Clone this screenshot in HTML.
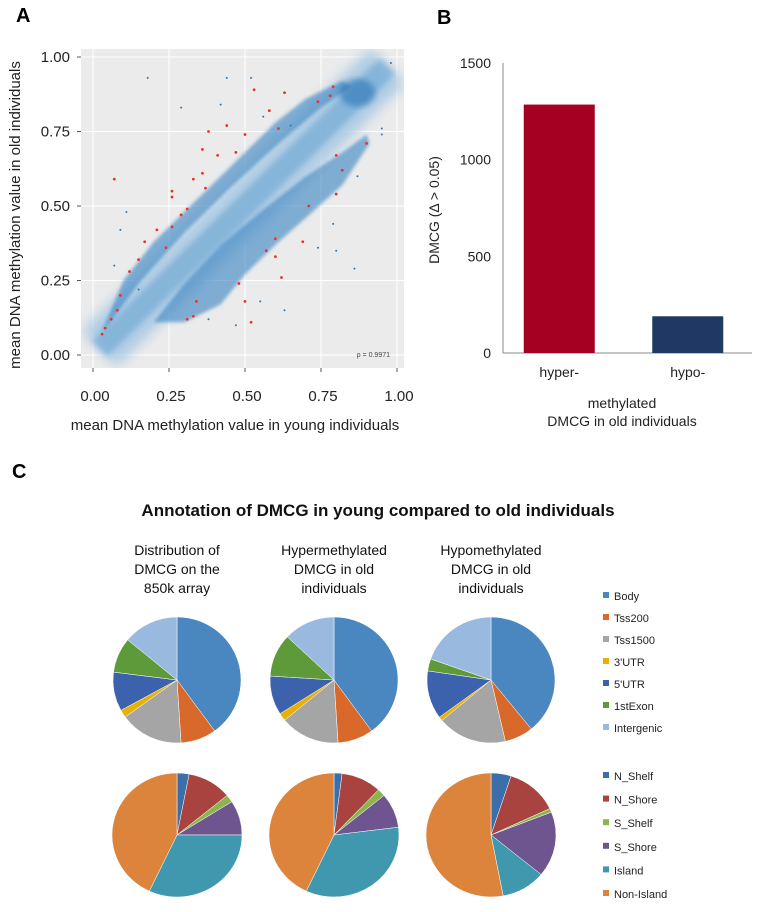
<!DOCTYPE html>
<html><head><meta charset="utf-8"><style>
body{margin:0;background:#fff;font-family:"Liberation Sans",sans-serif}
svg{display:block}
</style></head><body>
<svg id="fig" width="761" height="912" xmlns="http://www.w3.org/2000/svg" font-family="Liberation Sans, sans-serif">
<defs>
<filter id="blur"><feGaussianBlur stdDeviation="6"/></filter>
<filter id="blur3"><feGaussianBlur stdDeviation="3"/></filter>
<filter id="blur2"><feGaussianBlur stdDeviation="1.5"/></filter>
<clipPath id="clipA"><rect x="81" y="49" width="323" height="319"/></clipPath>
</defs>
<text x="16" y="22" font-size="20" font-weight="bold">A</text>
<text x="437" y="24" font-size="20" font-weight="bold">B</text>
<text x="12" y="478" font-size="20" font-weight="bold">C</text>
<g id="pa"></g>
<g id="pb"></g>
<g id="pc"></g>
</svg>
<script>
const NS="http://www.w3.org/2000/svg";
function mk(p,t,a,txt){const e=document.createElementNS(NS,t);for(const k in a)e.setAttribute(k,a[k]);if(txt!==undefined)e.textContent=txt;p.appendChild(e);return e;}

// ---------- Panel A data ----------
const aTicks=[0,0.25,0.5,0.75,1];
const aTickLabels=["0.00","0.25","0.50","0.75","1.00"];
const hyperCloud=[[0.03,0.08],[0.1,0.25],[0.2,0.38],[0.3,0.48],[0.45,0.63],[0.6,0.78],[0.7,0.86],[0.82,0.92],[0.85,0.9],[0.75,0.83],[0.6,0.7],[0.45,0.56],[0.3,0.41],[0.15,0.24],[0.05,0.1]];
const hypoCloud=[[0.2,0.11],[0.3,0.24],[0.42,0.37],[0.55,0.48],[0.7,0.6],[0.82,0.68],[0.9,0.74],[0.91,0.71],[0.82,0.57],[0.7,0.46],[0.6,0.37],[0.5,0.27],[0.42,0.17],[0.3,0.11]];
const redX=[0.07,0.53,0.63,0.79,0.44,0.38,0.5,0.36,0.41,0.47,0.36,0.33,0.37,0.26,0.26,0.31,0.29,0.21,0.26,0.24,0.17,0.15,0.12,0.09,0.08,0.06,0.04,0.03,0.58,0.61,0.74,0.78,0.9,0.8,0.82,0.8,0.71,0.6,0.57,0.6,0.62,0.69,0.48,0.5,0.52,0.34,0.31,0.33];
const redY=[0.59,0.89,0.88,0.9,0.77,0.75,0.74,0.69,0.67,0.68,0.61,0.59,0.56,0.55,0.53,0.49,0.47,0.42,0.43,0.36,0.38,0.32,0.28,0.2,0.15,0.12,0.09,0.07,0.82,0.76,0.85,0.87,0.71,0.67,0.62,0.54,0.5,0.39,0.35,0.33,0.26,0.38,0.24,0.18,0.11,0.18,0.12,0.13];
const blueX=[0.18,0.44,0.29,0.11,0.09,0.52,0.42,0.56,0.65,0.79,0.86,0.95,0.87,0.8,0.74,0.63,0.95,0.98,0.55,0.38,0.47,0.07,0.15];
const blueY=[0.93,0.93,0.83,0.48,0.42,0.93,0.84,0.8,0.77,0.44,0.29,0.76,0.6,0.35,0.36,0.15,0.74,0.98,0.18,0.12,0.1,0.3,0.22];
(function(){
 const g=document.getElementById('pa');
 const X=v=>93+v*304, Y=v=>355-v*298;
 const bg=mk(g,'rect',{x:81,y:49,width:323,height:319,fill:'#ebebeb'});
 
 aTicks.forEach((t,i)=>{
  mk(g,'line',{x1:81,x2:404,y1:Y(t),y2:Y(t),stroke:'#fff','stroke-width':1});
  mk(g,'line',{x1:X(t),x2:X(t),y1:49,y2:368,stroke:'#fff','stroke-width':1});
  mk(g,'line',{x1:77,x2:81,y1:Y(t),y2:Y(t),stroke:'#555'});
  mk(g,'line',{x1:X(t),x2:X(t),y1:368,y2:372,stroke:'#555'});
  const yl=mk(g,'text',{x:70,y:Y(t)+5,'font-size':15,'text-anchor':'end',fill:'#222'},aTickLabels[i]);
  
  const xl=mk(g,'text',{x:X(t)+2,y:401,'font-size':15,'text-anchor':'middle',fill:'#222'},aTickLabels[i]);
  
 });
 const cg=mk(g,'g',{'clip-path':'url(#clipA)'});
 const band=mk(cg,'line',{x1:X(0.02),y1:Y(0.02),x2:X(0.97),y2:Y(0.97),stroke:'#a9c9e3','stroke-width':50,'stroke-opacity':0.9,filter:'url(#blur)'});
 
 const c1=mk(cg,'polygon',{points:hyperCloud.map(p=>X(p[0])+','+Y(p[1])).join(' '),fill:'#3583c2','fill-opacity':0.6,filter:'url(#blur2)'});
 
 const c2=mk(cg,'polygon',{points:hypoCloud.map(p=>X(p[0])+','+Y(p[1])).join(' '),fill:'#3583c2','fill-opacity':0.6,filter:'url(#blur2)'});
 
 const core=mk(cg,'line',{x1:X(0.02),y1:Y(0.02),x2:X(0.97),y2:Y(0.97),stroke:'#6aa5d4','stroke-width':22,'stroke-opacity':0.6,filter:'url(#blur3)'});
 
 mk(cg,'ellipse',{cx:X(0.87),cy:Y(0.88),rx:18,ry:14,fill:'#1f6fb0','fill-opacity':0.55,filter:'url(#blur3)'});
 blueX.forEach((x,i)=>{const p=mk(g,'circle',{cx:X(x),cy:Y(blueY[i]),r:1,fill:'#2878b8'});
  });
 redX.forEach((x,i)=>{const p=mk(g,'circle',{cx:X(x),cy:Y(redY[i]),r:1.4,fill:'#e8322d'});
  });
 const rho=mk(g,'text',{x:390,y:357,'font-size':7,'text-anchor':'end',fill:'#444'},'ρ = 0.9971');
 
 const yt=mk(g,'text',{x:0,y:0,'font-size':15,'text-anchor':'middle',transform:'translate(20,215) rotate(-90)',fill:'#222'},'mean DNA methylation  value  in old individuals');
 
 const xt=mk(g,'text',{x:235,y:430,'font-size':15,'text-anchor':'middle',fill:'#222'},'mean DNA methylation  value  in young  individuals');
 
})();

// ---------- Panel B data ----------
const bCats=["hyper-","hypo-"];
const bVals=[1285,190];
const bTicks=[0,500,1000,1500];
const bColors=["#a50021","#203864"];
(function(){
 const g=document.getElementById('pb');
 const Y=v=>353-v*(290/1500);
 const x0=503, x1=752;
 mk(g,'line',{x1:x0,x2:x0,y1:Y(1500),y2:Y(0),stroke:'#888'});
 mk(g,'line',{x1:x0,x2:x1,y1:Y(0),y2:Y(0),stroke:'#888'});
 bTicks.forEach(t=>{const l=mk(g,'text',{x:491,y:Y(t)+5,'font-size':14,'text-anchor':'end',fill:'#222'},String(t));
  });
 const slot=(x1-x0)/2;
 bCats.forEach((c,i)=>{
  const cx=x0+slot*(i+0.5)+(i?-2:-6);
  const r=mk(g,'rect',{x:cx-35.5,y:Y(bVals[i]),width:71,height:Y(0)-Y(bVals[i]),fill:bColors[i]});
  
  const t=mk(g,'text',{x:cx,y:377,'font-size':14,'text-anchor':'middle',fill:'#222'},c);
  
 });
 const yt=mk(g,'text',{x:0,y:0,'font-size':14,'text-anchor':'middle',transform:'translate(439,210) rotate(-90)',fill:'#222'},'DMCG (Δ > 0.05)');
 
 const t1=mk(g,'text',{x:622,y:408,'font-size':14,'text-anchor':'middle',fill:'#222'},'methylated');
 
 const t2=mk(g,'text',{x:622,y:426,'font-size':14,'text-anchor':'middle',fill:'#222'},'DMCG in old individuals');
 
})();

// ---------- Panel C data ----------
const geneCats=["Body","Tss200","Tss1500","3'UTR","5'UTR","1stExon","Intergenic"];
const geneColors=["#4a86c0","#d9692a","#a5a5a5","#e8b000","#3d62ad","#5f9a3a","#9ab9de"];
const geneArray=[0.40,0.09,0.16,0.02,0.10,0.09,0.14];
const geneHyper=[0.40,0.09,0.15,0.02,0.10,0.11,0.13];
const geneHypo=[0.38,0.07,0.17,0.01,0.12,0.03,0.19];
const cpgCats=["N_Shelf","N_Shore","S_Shelf","S_Shore","Island","Non-Island"];
const cpgColors=["#3c6fa9","#a8433f","#8cb54d","#6f558f","#3f98ae","#dc843c"];
const cpgArray=[0.03,0.11,0.02,0.09,0.32,0.43];
const cpgHyper=[0.02,0.10,0.02,0.09,0.34,0.43];
const cpgHypo=[0.05,0.13,0.01,0.17,0.11,0.53];
const pieTitles=[["Distribution of","DMCG on the","850k array"],["Hypermethylated","DMCG in old","individuals"],["Hypomethylated","DMCG in old","individuals"]];
(function(){
 const g=document.getElementById('pc');
 const tt=mk(g,'text',{x:378,y:516,'font-size':17,'font-weight':'bold','text-anchor':'middle',fill:'#111'},'Annotation of DMCG in young compared to old individuals');
 
 const cxs=[177,334,491];
 pieTitles.forEach((lines,i)=>lines.forEach((l,j)=>{
  const t=mk(g,'text',{x:cxs[i],y:555+j*19,'font-size':14,'text-anchor':'middle',fill:'#111'},l);
  
 }));
 function pie(vals,cols,cx,cy,rx,ry,name){
  const s=vals.reduce((a,b)=>a+b,0);let a0=0;
  vals.forEach((v,i)=>{
   const a1=a0+v/s*2*Math.PI;
   const p=(a)=>[cx+rx*Math.sin(a),cy-ry*Math.cos(a)];
   const P0=p(a0),P1=p(a1);
   const d=`M${cx},${cy}L${P0[0]},${P0[1]}A${rx},${ry} 0 ${a1-a0>Math.PI?1:0} 1 ${P1[0]},${P1[1]}Z`;
   const sl=mk(g,'path',{d:d,fill:cols[i],stroke:'#fff','stroke-width':0.5});
   
   a0=a1;
  });
 }
 [geneArray,geneHyper,geneHypo].forEach((v,i)=>pie(v,geneColors,cxs[i],680,64,63,'gene-pie'));
 [cpgArray,cpgHyper,cpgHypo].forEach((v,i)=>pie(v,cpgColors,cxs[i],835,65,62,'cpg-pie'));
 geneCats.forEach((c,i)=>{
  const y=597+i*22;
  const r=mk(g,'rect',{x:603,y:y-5,width:6,height:6,fill:geneColors[i]});
  
  const t=mk(g,'text',{x:614,y:y+3,'font-size':11,fill:'#222'},c);
  
 });
 cpgCats.forEach((c,i)=>{
  const y=777+i*23.6;
  const r=mk(g,'rect',{x:603,y:y-5,width:6,height:6,fill:cpgColors[i]});
  
  const t=mk(g,'text',{x:614,y:y+3,'font-size':11,fill:'#222'},c);
  
 });
})();
</script>
</body></html>
